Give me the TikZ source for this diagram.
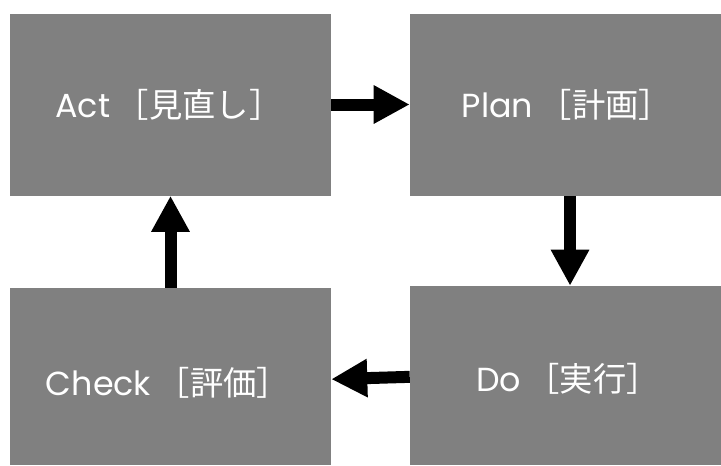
\documentclass[tikz,border=0pt]{standalone}
\usepackage{fontspec}
\setmainfont{Noto Sans CJK JP}
\newfontfamily\latinfont{Poppins}
\usetikzlibrary{arrows.meta}
\definecolor{boxgray}{HTML}{808080}
\tikzset{
  pdcabox/.style={fill=boxgray, draw=none, inner sep=0pt},
  pdcatext/.style={text=white, inner sep=0pt, font=\fontsize{25}{30}\selectfont},
  pdcaarrow/.style={line width=9pt, draw=black,
    -{Triangle[length=27pt,width=27pt]}}
}
\begin{document}
\begin{tikzpicture}[x=0.75pt,y=-0.75pt]
\useasboundingbox (0,0) rectangle (721,465);
\node[pdcabox, minimum width=240.75pt, minimum height=136.5pt] (act) at (170.5,104.5) {};
\node[pdcabox, minimum width=233.25pt, minimum height=136.5pt] (plan) at (565.5,104.5) {};
\node[pdcabox, minimum width=240.75pt, minimum height=132.75pt] (check) at (170.5,376.5) {};
\node[pdcabox, minimum width=233.25pt, minimum height=134.25pt] (do) at (565.5,375.5) {};
\node[pdcatext] (acttext) at (169,105) {{\latinfont Act}\,［見直し］};
\node[pdcatext] (plantext) at (567,105) {{\latinfont Plan}\,［計画］};
\node[pdcatext] (checktext) at (168,383) {{\latinfont Check}\,［評価］};
\node[pdcatext] (dotext) at (568,379) {{\latinfont Do}\,［実行］};
\draw[pdcaarrow] (act.east) -- (plan.west);
\draw[pdcaarrow] ([xshift=3.4pt]plan.south) -- ([xshift=3.4pt]do.north);
\draw[pdcaarrow] ([yshift=-1pt]do.west) -- ([yshift=-2pt]check.east);
\draw[pdcaarrow] (check.north) -- (act.south);
\end{tikzpicture}
\end{document}
